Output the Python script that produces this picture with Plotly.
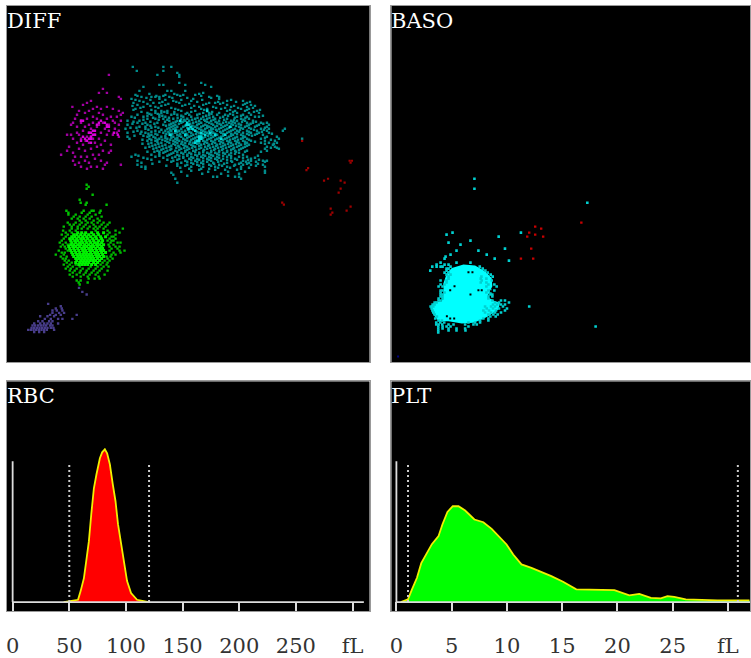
import plotly.graph_objects as go

# ---- scattergram channels (DIFF and BASO): {channel_y: [channel_x, ...]}
diff_teal = {
201:[397,489,513],213:[409,489],219:[531],225:[471,537],231:[537],249:[537,603],255:[477,489,555,615],261:[429,633],
273:[417,501,513,555],279:[609],285:[405,495,531,549,585],291:[423,453,465,477,507,627,657],297:[393,477,579,657],
303:[417,519,573,681,729],309:[399,459,477,537,627,645,669,741],315:[411,495,555,609,681,729,753],
321:[429,465,597,639,693,741],327:[405,525,603,621,663,723,747],333:[465,483,501,543,585,681,705,735,771],
339:[441,465,483,501,561,609,627,657,711,747,777],345:[411,453,477,513,531,567,591,627,651,675,699,729,753],
351:[393,429,477,495,549,573,609,639,669,711,741,765,777],357:[441,465,489,519,543,561,585,603,621,645,681,723,747],
363:[381,417,507,531,555,567,597,615,633,657,693,711,735,759],369:[411,435,471,519,543,579,603,627,651,669,687,705,741,759,783,801],
375:[381,441,489,507,525,561,591,615,639,663,681,699,723,747,777,807],381:[417,435,465,513,531,549,585,603,627,645,669,693,717,735,765,801],
387:[375,435,501,519,543,573,597,615,639,657,681,705,729,753,783,807,855],393:[411,465,495,513,537,555,585,609,627,651,669,693,711,741,771,801,849],
399:[381,435,489,507,525,549,573,597,621,639,663,681,705,729,753,777,807],405:[453,471,507,531,561,579,603,633,651,675,699,723,747,765,789],
411:[381,441,459,483,519,543,567,591,615,639,663,687,711,735,801,831],417:[387,447,477,501,525,549,579,603,627,651,675,699,723,741,783,837,907],
423:[441,465,495,519,537,561,585,609,633,657,681,705,729,753,795,825],429:[453,483,507,531,555,579,597,621,645,669,693,717,741,783,807,831],
435:[465,495,525,549,573,603,627,651,675,699,723,747,819],441:[447,477,507,537,561,585,615,639,663,687,711,735,801,825],
447:[459,489,513,543,567,597,621,645,669,699,723,795,837],453:[471,501,525,555,579,609,633,657,681,705,741,801],
459:[489,519,543,567,597,621,645,669,693,717],465:[405,453,507,531,561,585,609,633,657,687,729],
471:[393,465,525,549,573,603,627,651,681,717,741],477:[441,537,567,591,621,645,669,705,753],
483:[411,519,555,585,609,633,663,693,729,753,789,801],489:[423,543,573,603,639,681,723,747],
495:[411,561,591,627,657,705,729,753,789],501:[423,435,573,609,645,681,723,795],507:[435,567,603,627,723],513:[573,795],
519:[513,795],525:[519],531:[639,651,705,717],537:[525,723],549:[531],
}
diff_teal_fill = {
342:[447,472,522,556,598,634,690],354:[403,458,506,532,592,628,660,704,736],360:[429,475,501,552,576,612,640,672,702,730],
366:[399,450,494,526,548,588,620,646,678,698,726,768],372:[426,462,512,536,570,596,634,658,694,716,752,790],
378:[450,497,519,555,577,609,621,651,675,708,741,771],384:[408,474,507,525,561,591,621,633,663,687,723,747,795],
390:[444,483,510,528,564,579,603,633,648,675,699,720,762,792],396:[423,477,504,531,546,567,591,615,636,660,687,717,747,786],
402:[465,498,516,540,558,588,609,627,645,669,693,711,741,771],408:[447,495,513,537,555,573,597,624,645,669,693,729,756],
414:[465,495,513,531,561,585,609,633,657,681,705,729,795],420:[453,486,510,531,555,573,597,621,645,669,690,714,747,813],
426:[471,501,525,546,570,591,615,639,663,687,711,735,765],432:[444,474,519,543,567,591,612,636,660,684,708,735,795],
438:[456,486,513,534,555,579,597,624,648,669,693,717,741],444:[468,498,528,552,576,603,630,654,678,702,729],
450:[483,510,537,561,588,612,642,666,693,717],456:[462,495,531,555,585,609,633,657,681,708,735],
462:[477,513,549,573,597,627,651,675,705],468:[501,537,561,591,615,639,669,693],474:[516,549,579,609,633,657,693,729],
480:[531,573,597,627,651,681,711,744],486:[561,591,621,654,696,738],492:[579,609,642,672,717],498:[555,597,633,666],
}
diff_teal_outer = {
282:[447,522,597],288:[411,468,489,540,603,651],294:[438,516,561,633],300:[405,450,495,543,606,693],306:[429,486,528,591,654,708,750],
312:[441,504,567,618,660,735],318:[396,450,483,546,582,702,765],324:[420,474,513,573,648,675,714,759],330:[399,453,534,612,690,741,780],
336:[423,492,522,573,636,699,762],348:[441,486,543,618,684,723,789],372:[396],384:[390,453],396:[399,453],402:[420,444,816],
408:[402,429],420:[426,471],432:[426,822],444:[435,813,831],456:[441,477,783],468:[414,477,774],474:[429,489,765],
480:[453,501,777],486:[477,513,768,795],492:[456,531,741,774],498:[498,531,702,768],504:[540,654,690,747],
510:[597,645,675,711],516:[543,624,684,735],522:[606,663,717],528:[561,684],
}
diff_teal_bright = {
333:[621],363:[540],369:[561],375:[565,559],381:[571,690],387:[565,577],393:[525,585],399:[630,603],405:[510,555,615,645,675],
411:[597,603],417:[603,663,597],423:[597,591],429:[585],
}
diff_purple = {
225:[325],267:[307],279:[295,319],291:[355],297:[361],303:[271],309:[259],315:[247],321:[215,289,319],327:[277,301,337],
333:[235,265,355],339:[253,295,367],345:[229,307,361],351:[277,331,349],357:[223,259,289,319],363:[241,337,361],
369:[217,241,277,307,343],375:[211,265,295,325,355],381:[229,253,289],387:[271,313,343],393:[247,325,355],
399:[229,265,301,349],405:[199,211,235,283,319,337],411:[259,271,355],417:[217,241,277,295],423:[255,313],
429:[229,265,283],435:[247,301,331],441:[205,289],447:[235,271],453:[199,253,307,331],459:[217,325],
465:[181,277,295],471:[223,241,259],477:[283],483:[217,253,301],489:[235,265,319],495:[223,313,361],501:[241,271,289],507:[259,307],
}
diff_purple_bright = {
363:[241,247,301],369:[295,313],375:[289,319],381:[319,325],393:[283,277],399:[340,265,271],405:[283,277,352],411:[247,271],
417:[265,271,253],423:[241,259],429:[271],
}
diff_green = {
555:[258],561:[264],567:[258],585:[276],600:[237],609:[240,258],615:[255,318],
633:[197,249,273,279,300],639:[203,243,267,297],645:[203,225,261,285],651:[219,237,255,273,303],657:[213,231,249,267,291],
663:[237,255,279,297],669:[201,225,243,261,273,291,309,327],675:[207,219,237,255,279,303,321],681:[189,213,231,249,267,285,297,315],
687:[213,231,243,261,279,291,309,367],693:[187,207,225,285,321,345],699:[195,213,327,357],705:[183,201,321,345],711:[195,333,339],
717:[189,327,345],723:[183,321,333,339],729:[177,195,330,351,360],735:[186,201,324,339],741:[180,192,327,345,357],747:[195,333,351],
753:[174,201,327,357,372],759:[183,192,339,360],765:[165,189,333,345],771:[180,198,318,330],777:[186,195,321,336],783:[192,204,312,327],
789:[198,213,306,321],795:[189,207,225,300,318],801:[201,216,237,270,291,309,324],807:[195,210,228,246,264,285,303],
813:[207,222,240,258,279,297,321],819:[216,237,255,273,291],825:[207,228,249,267,285,312],831:[216,240,261,294],837:[264,282,297],
843:[228,240],849:[234,261],855:[237],
}
diff_green_core = {
699:[231,243,255,273,291,309],705:[219,228,240,252,264,279,294],711:[213,222,234,246,258,270,285,300,315],
717:[207,216,228,240,249,261,276,288,303],723:[210,222,231,243,255,267,279,294,306],
729:[213,225,237,246,258,270,282,291,303],735:[210,219,231,240,252,264,276,288,297,309],
741:[204,216,225,237,249,258,270,279,291,303],747:[207,219,231,243,252,264,273,285,297,306],
753:[210,222,234,246,255,267,276,288,300,309],759:[213,225,237,249,258,270,282,291,303,315],
765:[216,228,237,246,255,264,273,285,294,306],771:[219,231,240,249,258,267,276,288,297,309],
777:[225,234,243,252,261,270,279,291,303],783:[228,240,249,258,267,276,285,297],789:[225,237,246,255,264,279,291],
795:[234,243,252,261,273,285],
}
diff_indigo = {
865:[235],877:[245],885:[258],913:[142],920:[180],927:[165,183],933:[155,168,185],940:[155,175,190],946:[148,165,180,228],
950:[118,140,160],958:[132,150,172,185,215],965:[112,125,145,155],972:[100,118,130,140,150,172],
978:[95,103,112,120,128,136,148,155],985:[92,100,108,116,124,132,140,150,158],991:[82,90,98,106,114,122,130,138,160],998:[100,115,130],
}
diff_red = {
423:[907],483:[1050,1057],489:[1053],505:[925],511:[920],537:[985],543:[973,1023],549:[1035],567:[1023],579:[1017],
609:[847],615:[852],621:[1053],627:[993],633:[1041],639:[998],645:[993],
}

baso_core_x = [200,235,270,300,320,322,310,312,330,345,340,310,290,265,230,190,160,140,135,150,170,175,175,185,200]
baso_core_y = [295,285,288,305,325,350,375,385,395,400,420,440,450,460,462,455,455,430,410,397,395,370,340,310,295]
baso_gaps = {308:[250,262],350:[208],362:[195,280,290],365:[318],375:[256],440:[185],447:[195,207]}
baso_cyan = {
27:[268],57:[268],99:[608],189:[202,408],195:[184],201:[341],213:[256],219:[190],225:[226],237:[360],243:[214,280],
255:[196,305],261:[181],267:[178,329],273:[372],279:[214,166,256],285:[154,178,190],291:[141,154,166,172,284,196],
297:[184,190,293],303:[135,184,301],309:[178,190,308],315:[184,196,317],321:[190,289,323],327:[190,287,304],
333:[166,184,290,320],339:[184,287,304],345:[166,178,310,328],351:[160,172,304,335],363:[166,172,316,328,310],
369:[166,178,304,316],375:[166,172,316,322],381:[166,172,310,322],387:[160,172,310],393:[160,166,322,348,360],
399:[148,154,330,342,372],405:[142,148,324,336,348,360],411:[136,144,300,318,330,354,433],417:[139,305,324,342,366],
423:[142,295,312,333,360],429:[145,300,318,330,348],435:[148,310,325,338],441:[155,316,332],447:[150,295,310],
453:[160,170,285,310],459:[153,165,177,250,285,270],465:[153,160,171,190,205,240,265,275],471:[159,172,184,196,633,250],
477:[159,172,190,214,240],483:[159,190,214,241],489:[159],
}
baso_red = {159:[590],171:[451],177:[469],189:[433],195:[451],201:[427,475],237:[439],267:[408,445]}
baso_navy = {561:[38]}

# ---- histogram curves
rbc_fl = [45,51.8,57.7,60,62.9,65.3,67.3,69.4,71.7,74,77,79,81.4,83.4,85.8,88.4,90.8,93,95.8,98,101,104.5,109.8,115.6,120]
rbc_count = [0,1,2.3,11,24,44,61,88,114,128,144,150,153,149,138,118,101,78,58,38,21,9,2.3,1,0]
plt_fl = [0.4,0.66,1.05,1.41,1.86,2.25,2.67,3.21,3.81,4.17,4.62,5.1,5.62,6.22,7.06,7.87,8.62,9.37,9.97,10.57,11.32,12.22,13.12,14.02,15.08,16.28,19.73,20.48,21.08,21.98,23.03,23.93,24.53,25.14,26.19,29.04,31.95]
plt_count = [0,1,2.7,12.7,24.3,39,48,58,66,78,90.3,96,96,91.7,82.7,80,73.3,65,57.7,47.7,37.7,34.3,30.3,26,20.3,12.7,12,8.7,6.7,8.3,4.3,3.7,6,5.3,2.7,1.7,1.7]

rbc_ticks = [0,50,100,150,200,250,300]
rbc_labels = ["0","50","100","150","200","250","fL"]
plt_ticks = [0,5,10,15,20,25,30]
plt_labels = ["0","5","10","15","20","25","fL"]
rbc_gates = [50,120.4]
plt_gates = [1.05,30.9]
panel_names = ["DIFF","BASO","RBC","PLT"]

W, H = 751, 658
FONT = "DejaVu Serif"
fig = go.Figure()

def aid(ax):
    return "" if ax == 1 else str(ax)

def flat(rows):
    xs, ys = [], []
    for y, row in rows.items():
        for x in row:
            xs.append(x); ys.append(y)
    return xs, ys

def dots(rows, color, ax, size=2.4):
    xs, ys = flat(rows)
    fig.add_trace(go.Scatter(x=xs, y=ys, mode="markers", xaxis=f"x{aid(ax)}", yaxis=f"y{aid(ax)}",
        marker=dict(symbol="square", size=size, color=color, line=dict(width=0))))

dots(diff_teal, "#008c8c", 1, 2.4)
dots(diff_teal_fill, "#008c8c", 1, 2.4)
dots(diff_teal_outer, "#008c8c", 1, 2.4)
dots(diff_teal_bright, "#00d8d8", 1, 2.6)
dots(diff_purple, "#a000a0", 1, 2.4)
dots(diff_purple_bright, "#d800d8", 1, 2.4)
dots(diff_green, "#00c000", 1, 2.4)
dots(diff_green_core, "#00f000", 1, 3)
dots(diff_indigo, "#483d8b", 1, 2.4)
dots(diff_red, "#a00000", 1, 2.2)

fig.add_trace(go.Scatter(x=baso_core_x, y=baso_core_y, mode="lines", fill="toself", fillcolor="#00ffff",
    line=dict(width=0, color="#00ffff"), xaxis="x2", yaxis="y2"))
dots(baso_cyan, "#00d0d0", 2, 2.6)
dots(baso_gaps, "#000000", 2, 2)
dots(baso_red, "#c80000", 2, 2.4)
dots(baso_navy, "#000080", 2, 2)

def hist(xs, ys, fill, ax, gates, top):
    fig.add_trace(go.Scatter(x=xs, y=ys, mode="lines", fill="tozeroy", fillcolor=fill,
        line=dict(color="#f0f000", width=1.8), xaxis=f"x{ax}", yaxis=f"y{ax}"))
    for g in gates:
        fig.add_trace(go.Scatter(x=[g,g], y=[0,139], mode="lines", line=dict(color="#cccccc", width=2, dash="2px,3px"),
            xaxis=f"x{ax}", yaxis=f"y{ax}"))
    fig.add_trace(go.Scatter(x=[0,0], y=[0,141], mode="lines", line=dict(color="#dddddd", width=1.8),
        xaxis=f"x{ax}", yaxis=f"y{ax}"))
    fig.add_trace(go.Scatter(x=[0,top], y=[0,0], mode="lines", line=dict(color="#dddddd", width=1.8),
        xaxis=f"x{ax}", yaxis=f"y{ax}"))

hist(rbc_fl, rbc_count, "#ff0000", 3, rbc_gates, 310)
hist(plt_fl, plt_count, "#00ff00", 4, plt_gates, 32)

def dom(a, b, n):
    return [a/n, b/n]

frame = dict(showgrid=False, zeroline=False, showline=True, linecolor="#999999", linewidth=1, mirror=True)
hidden = dict(showticklabels=False, ticks="")
xl, xr = dom(5,369,W), dom(391,751,W)
yt = [1-363/H, 1-6/H]
yb = [1-612/H, 1-382/H]

def hx(dm, rng, ticks, labels, anchor):
    return dict(domain=dm, range=rng, anchor=anchor, tickmode="array", tickvals=ticks, ticktext=labels, ticks="inside", ticklen=9,
        tickcolor="#dddddd", tickwidth=1.5, ticklabelstandoff=16,
        tickfont=dict(family=FONT, size=21, color="#333333"), **frame)

fig.update_layout(
    width=W, height=H, margin=dict(l=0,r=0,t=0,b=0), paper_bgcolor="#ffffff", plot_bgcolor="#000000", showlegend=False,
    xaxis=dict(domain=xl, range=[18,1110], anchor="y", **hidden, **frame),
    yaxis=dict(domain=yt, range=[1089,18], anchor="x", **hidden, **frame),
    xaxis2=dict(domain=xr, range=[18,1098], anchor="y2", **hidden, **frame),
    yaxis2=dict(domain=yt, range=[579,-492], anchor="x2", **hidden, **frame),
    xaxis3=hx(xl, [-5,315], rbc_ticks, rbc_labels, "y3"),
    yaxis3=dict(domain=yb, range=[-9,221], anchor="x3", **hidden, **frame),
    xaxis4=hx(xr, [-0.45,32], plt_ticks, plt_labels, "y4"),
    yaxis4=dict(domain=yb, range=[-9,221], anchor="x4", **hidden, **frame),
)
for i, name in enumerate(panel_names, start=1):
    fig.add_annotation(text=name, xref=f"x{aid(i)} domain", yref=f"y{aid(i)} domain", x=0, y=1, xanchor="left", yanchor="top",
        showarrow=False, font=dict(family=FONT, size=21, color="#ffffff"), borderpad=0, xshift=-1, yshift=-2)

fig.write_html("out.html", config=dict(displayModeBar=False), post_script="document.body.style.margin='0';document.body.style.overflow='hidden';")
